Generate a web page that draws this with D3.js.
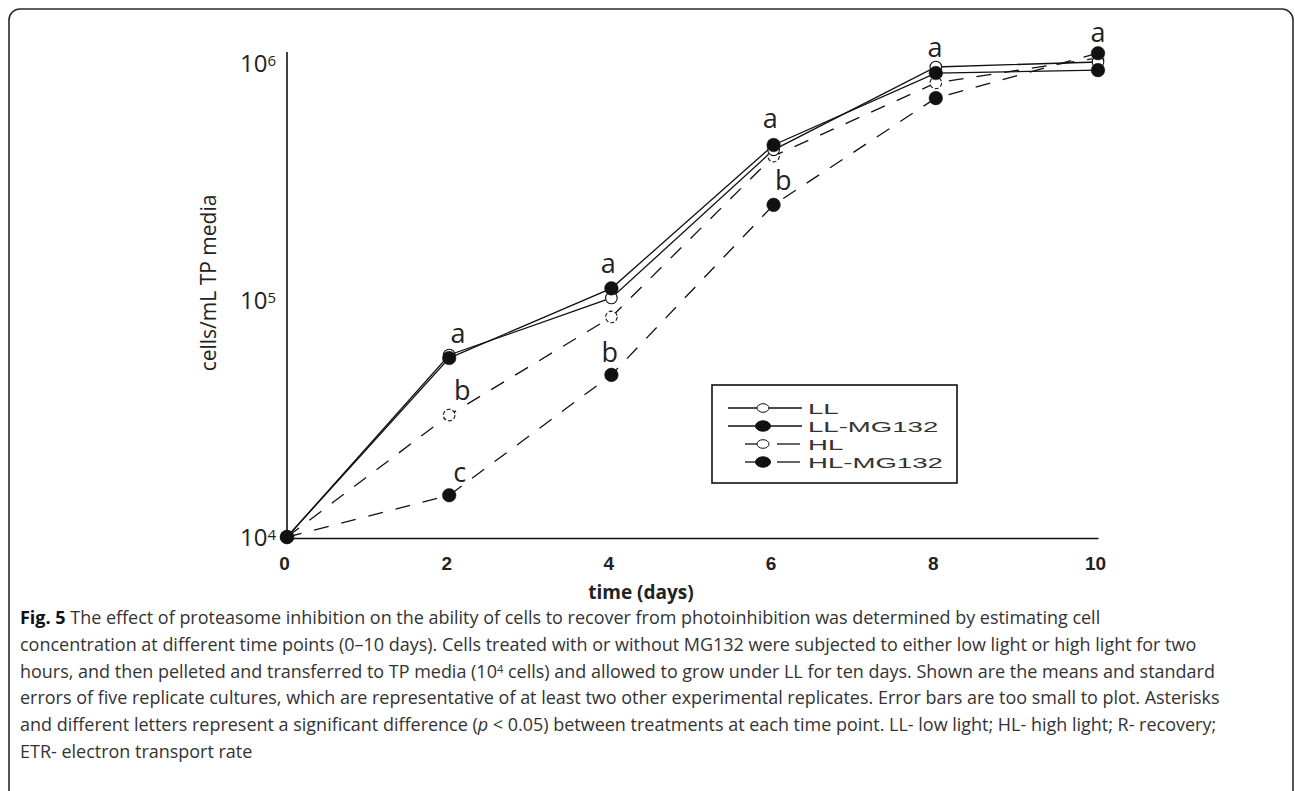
<!DOCTYPE html>
<html><head><meta charset="utf-8">
<script src="https://cdn.jsdelivr.net/npm/d3@7"></script>
<style>body{margin:0;background:#fff;} svg{display:block}</style>
</head><body><svg id="c" width="1295" height="791"></svg>
<script>
// ---- data ----
const days = [0, 2, 4, 6, 8, 10];
const seriesNames = ["LL", "LL-MG132", "HL", "HL-MG132"];
const llValues   = [10000, 58600, 102000, 430000, 962000, 1010000];
const llMgValues = [10000, 56900, 112000, 451000, 907000, 933000];
const hlValues   = [10000, 32700, 84800, 405000, 824000, 1050000];
const hlMgValues = [10000, 15000, 48300, 252000, 711000, 1100000];
const xTickValues = [0, 2, 4, 6, 8, 10];
const yTickValues = [1e4, 1e5, 1e6];
const yTickExponents = ["4", "5", "6"];
const letterText   = ["a", "b", "c", "a", "b", "a", "b", "a", "a"];
const letterDays   = [2.11, 2.16, 2.13, 3.96, 3.98, 5.96, 6.12, 7.99, 10];
const letterValues = [65900, 37900, 17100, 130000, 54800, 532000, 291000, 1060000, 1230000];
const xTitle = "time (days)";
const yTitle = "cells/mL TP media";
const captionLines = [
  [["b","Fig. 5"],["n"," The effect of proteasome inhibition on the ability of cells to recover from photoinhibition was determined by estimating cell"]],
  [["n","concentration at different time points (0–10 days). Cells treated with or without MG132 were subjected to either low light or high light for two"]],
  [["n","hours, and then pelleted and transferred to TP media (10"],["s","4"],["n"," cells) and allowed to grow under LL for ten days. Shown are the means and standard"]],
  [["n","errors of five replicate cultures, which are representative of at least two other experimental replicates. Error bars are too small to plot. Asterisks"]],
  [["n","and different letters represent a significant difference ("],["i","p"],["n"," < 0.05) between treatments at each time point. LL- low light; HL- high light; R- recovery;"]],
  [["n","ETR- electron transport rate"]]
];

// ---- build ----
const series = [
  {name: seriesNames[0], values: llValues,   filled: false, dashed: false},
  {name: seriesNames[1], values: llMgValues, filled: true,  dashed: false},
  {name: seriesNames[2], values: hlValues,   filled: false, dashed: true},
  {name: seriesNames[3], values: hlMgValues, filled: true,  dashed: true}
];

const svg = d3.select("#c");
const ink = "#111";

// card border
svg.append("rect").attr("x", 9).attr("y", 9).attr("width", 1284).attr("height", 810)
  .attr("rx", 11).attr("fill", "none").attr("stroke", "#2a2a2a").attr("stroke-width", 1.6);

const x = d3.scaleLinear().domain([0, 10]).range([287, 1098]);
const y = d3.scaleLog().domain([1e4, 1e6]).range([537, 63]);

// y axis
const yAx = svg.append("g").attr("transform", "translate(287,0)")
  .call(d3.axisLeft(y).tickValues(yTickValues).tickSize(0).tickPadding(11).tickFormat(() => ""));
yAx.select(".domain").remove();
yAx.selectAll(".tick text").each(function (d, i) {
  const t = d3.select(this);
  t.attr("font-family", "'Open Sans', sans-serif").attr("font-size", 24).attr("fill", "#222").attr("dy", "0.36em");
  t.append("tspan").text("10");
  t.append("tspan").attr("dy", -6.5).attr("font-size", 15).text(yTickExponents[i]);
});
svg.append("line").attr("x1", 287).attr("x2", 287).attr("y1", y(1e4) + 1).attr("y2", y(1e6) - 11)
  .attr("stroke", ink).attr("stroke-width", 1.6);

// x axis
const xAx = svg.append("g").attr("transform", `translate(0,${y(1e4) + 1})`)
  .call(d3.axisBottom(x).tickValues(xTickValues).tickSize(0).tickSizeOuter(0).tickFormat(d3.format("d")));
xAx.select(".domain").attr("stroke", ink).attr("stroke-width", 1.6);
xAx.selectAll(".tick text").attr("y", 32).attr("dy", 0).attr("dx", -3)
  .attr("font-family", "'Liberation Sans', Arial, sans-serif").attr("font-weight", "bold")
  .attr("font-size", 19).attr("fill", "#222");

// titles
svg.append("text").attr("x", 641).attr("y", 599).attr("text-anchor", "middle")
  .attr("font-family", "'Open Sans', sans-serif").attr("font-weight", "bold").attr("font-size", 19)
  .attr("fill", "#222").text(xTitle);
svg.append("text").attr("transform", "translate(216,283) rotate(-90)").attr("text-anchor", "middle")
  .attr("font-family", "'Open Sans', sans-serif").attr("font-size", 21).attr("fill", "#222").text(yTitle);

// lines
const line = d3.line().x((d, i) => x(days[i])).y(d => y(d));
svg.append("g").selectAll("path").data(series).join("path")
  .attr("d", s => line(s.values)).attr("fill", "none").attr("stroke", ink)
  .attr("stroke-width", 1.3).attr("stroke-dasharray", s => s.dashed ? "15,13" : null);

// markers: open first, filled on top
const order = [series[2], series[0], series[3], series[1]];
order.forEach(s => {
  svg.append("g").selectAll("circle").data(s.values).join("circle")
    .attr("cx", (d, i) => x(days[i])).attr("cy", d => y(d))
    .attr("r", s.filled ? 6.8 : 5.8)
    .attr("fill", s.filled ? ink : "#fff").attr("stroke", ink)
    .attr("stroke-width", s.filled ? 0.5 : 1.1)
    .attr("stroke-dasharray", (!s.filled && s.dashed) ? "4,2" : null);
});

// significance letters
svg.append("g").selectAll("text").data(letterText).join("text")
  .attr("x", (d, i) => x(letterDays[i])).attr("y", (d, i) => y(letterValues[i]))
  .attr("text-anchor", "middle").attr("font-family", "'Open Sans', sans-serif")
  .attr("font-size", 27).attr("fill", "#222").text(d => d);

// legend
const lg = svg.append("g");
lg.append("rect").attr("x", 712).attr("y", 385).attr("width", 245).attr("height", 98)
  .attr("fill", "#fff").attr("stroke", ink).attr("stroke-width", 1.6);
series.forEach((s, i) => {
  const ry = 408 + i * 18;
  if (!s.dashed) {
    lg.append("line").attr("x1", 728).attr("x2", 802).attr("y1", ry).attr("y2", ry)
      .attr("stroke", ink).attr("stroke-width", 1.3);
  } else {
    lg.append("line").attr("x1", 745).attr("x2", 763).attr("y1", ry).attr("y2", ry)
      .attr("stroke", ink).attr("stroke-width", 1.3);
    lg.append("line").attr("x1", 777).attr("x2", 800).attr("y1", ry).attr("y2", ry)
      .attr("stroke", ink).attr("stroke-width", 1.3);
  }
  lg.append("ellipse").attr("cx", 763).attr("cy", ry)
    .attr("rx", s.filled ? 7.5 : 6).attr("ry", s.filled ? 5.2 : 4.3)
    .attr("fill", s.filled ? ink : "#fff").attr("stroke", ink).attr("stroke-width", 1);
  lg.append("text").attr("transform", `translate(808,${ry + 5.5}) scale(1.78,1)`)
    .attr("font-family", "'Liberation Sans', Arial, sans-serif").attr("font-size", 15.5)
    .attr("fill", "#333").text(s.name);
});

// caption
const cap = svg.append("g").attr("font-family", "'Open Sans', sans-serif").attr("fill", "#333");
const capTexts = captionLines.map((parts, li) => {
  const t = cap.append("text").attr("x", 20).attr("y", 624 + li * 26.8).attr("font-size", 17);
  parts.forEach(([k, s]) => {
    const ts = t.append("tspan").text(s);
    if (k === "b") ts.attr("font-weight", "bold").attr("fill", "#111");
    if (k === "i") ts.attr("font-style", "italic");
    if (k === "s") ts.attr("font-size", "0.62em").attr("baseline-shift", "0.45em");
  });
  return t;
});
// fit caption size so line 2 spans the same width as in the figure
const w2 = capTexts[1].node().getComputedTextLength();
const fs = 17 * 1177 / w2;
capTexts.forEach(t => t.attr("font-size", fs));
</script></body></html>
